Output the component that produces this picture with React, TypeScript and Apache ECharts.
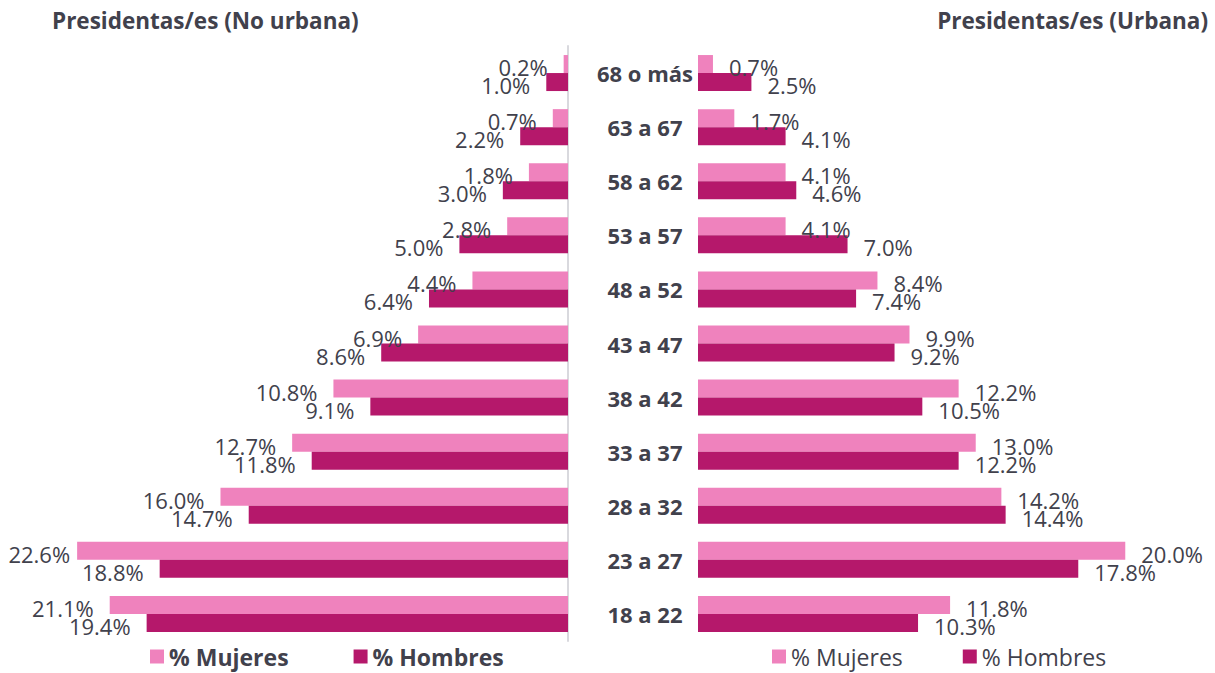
import React, { useEffect, useRef } from "react";
import * as echarts from "echarts";

const categories = ["68 o más", "63 a 67", "58 a 62", "53 a 57", "48 a 52", "43 a 47", "38 a 42", "33 a 37", "28 a 32", "23 a 27", "18 a 22"];
const noUrbanaMujeres = [0.2, 0.7, 1.8, 2.8, 4.4, 6.9, 10.8, 12.7, 16.0, 22.6, 21.1];
const noUrbanaHombres = [1.0, 2.2, 3.0, 5.0, 6.4, 8.6, 9.1, 11.8, 14.7, 18.8, 19.4];
const urbanaMujeres = [0.7, 1.7, 4.1, 4.1, 8.4, 9.9, 12.2, 13.0, 14.2, 20.0, 11.8];
const urbanaHombres = [2.5, 4.1, 4.6, 7.0, 7.4, 9.2, 10.5, 12.2, 14.4, 17.8, 10.3];
const seriesNames = ["% Mujeres", "% Hombres"];
const titles = ["Presidentas/es (No urbana)", "Presidentas/es (Urbana)"];

const PINK = "#EF82BD";
const DARK = "#B5186B";
const TEXT = "#41414C";
const FONT = "'Open Sans', sans-serif";

export default function App() {
  const ref = useRef<HTMLDivElement>(null);
  useEffect(() => {
    if (!ref.current) return;
    const chart = echarts.init(ref.current, undefined, { renderer: "svg" });
    const labelBase = {
      show: true,
      fontSize: 22,
      fontFamily: FONT,
      color: TEXT,
      distance: 16,
      offset: [0, 3],
      formatter: (p: any) => Number(p.value).toFixed(1) + "%",
    };
    const leftLabel = { ...labelBase, position: "left" };
    const rightLabel = { ...labelBase, position: "right" };
    const leftData = (arr: number[]) =>
      arr.map((v) => (v > 22 ? { value: v, label: { distance: 7 } } : v));
    const barCommon = { type: "bar", barWidth: 18, barGap: "0%" };
    chart.setOption({
      animation: false,
      textStyle: { fontFamily: FONT },
      title: [
        { text: titles[0], left: 52, top: 9, padding: 0, textStyle: { fontSize: 22.5, fontWeight: "bold", color: TEXT, fontFamily: FONT } },
        { text: titles[1], right: 7, top: 9, padding: 0, textStyle: { fontSize: 22.5, fontWeight: "bold", color: TEXT, fontFamily: FONT } },
      ],
      legend: [
        {
          data: seriesNames,
          left: 150,
          top: 645,
          padding: 0,
          itemWidth: 14,
          itemHeight: 14,
          itemGap: 65,
          icon: "rect",
          textStyle: { fontSize: 23, fontWeight: "bold", color: TEXT, fontFamily: FONT },
        },
        {
          data: seriesNames,
          left: 772,
          top: 645,
          padding: 0,
          itemWidth: 14,
          itemHeight: 14,
          itemGap: 60,
          icon: "rect",
          textStyle: { fontSize: 23, color: TEXT, fontFamily: FONT },
        },
      ],
      grid: [
        { left: 25, right: 647, top: 46, bottom: 32 },
        { left: 698, right: 47, top: 46, bottom: 32 },
      ],
      xAxis: [
        { type: "value", gridIndex: 0, min: 0, max: 25, inverse: true, show: false },
        { type: "value", gridIndex: 1, min: 0, max: 22, show: false },
      ],
      yAxis: [
        {
          type: "category",
          gridIndex: 0,
          data: categories,
          inverse: true,
          position: "right",
          axisLine: { show: true, lineStyle: { color: "#D9D9DE", width: 2 } },
          axisTick: { show: false },
          axisLabel: { show: false },
        },
        {
          type: "category",
          gridIndex: 1,
          data: categories,
          inverse: true,
          axisLine: { show: false },
          axisTick: { show: false },
          axisLabel: {
            show: true,
            align: "center",
            margin: 53,
            fontSize: 22,
            fontWeight: "bold",
            color: TEXT,
            fontFamily: FONT,
          },
        },
      ],
      series: [
        { ...barCommon, name: seriesNames[0], xAxisIndex: 0, yAxisIndex: 0, data: leftData(noUrbanaMujeres), itemStyle: { color: PINK }, label: leftLabel },
        { ...barCommon, name: seriesNames[1], xAxisIndex: 0, yAxisIndex: 0, data: leftData(noUrbanaHombres), itemStyle: { color: DARK }, label: leftLabel },
        { ...barCommon, name: seriesNames[0], xAxisIndex: 1, yAxisIndex: 1, data: urbanaMujeres, itemStyle: { color: PINK }, label: rightLabel },
        { ...barCommon, name: seriesNames[1], xAxisIndex: 1, yAxisIndex: 1, data: urbanaHombres, itemStyle: { color: DARK }, label: rightLabel },
      ],
    });
    return () => chart.dispose();
  }, []);
  return <div ref={ref} style={{ width: 1215, height: 673, position: "absolute", left: 0, top: 0 }} />;
}
